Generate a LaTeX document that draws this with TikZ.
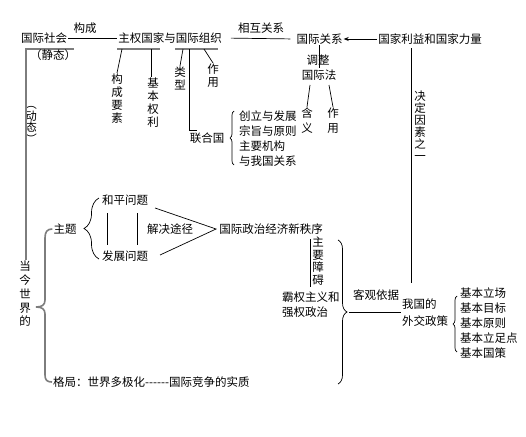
\documentclass[tikz,border=0pt]{standalone}
\usepackage{fontspec}
\setmainfont{Noto Sans CJK SC}
\usetikzlibrary{decorations.pathreplacing,arrows.meta}
\definecolor{lgray}{RGB}{125,125,125}
\begin{document}
\begin{tikzpicture}[x=1pt,y=-1pt,
  every node/.style={font=\fontsize{11.5}{13.8}\selectfont, inner sep=1pt},
  vt/.style={align=center, anchor=north, font=\fontsize{11.5}{#1}\selectfont},
  vt/.default=13,
  ml/.style={align=left, anchor=west, font=\fontsize{11.5}{#1}\selectfont},
  ml/.default=15,
  bar/.style={lgray, line width=2.5pt},
  gline/.style={lgray, line width=1.6pt},
  ln/.style={black, line width=0.7pt},
  brc/.style={ln, decorate, decoration={brace, amplitude=#1}}]
\fill[white] (0,0) rectangle (526,436);
\useasboundingbox (0,0) rectangle (526,436);

% top row
\node (gjsh) at (44,38) {国际社会};
\node (gc) at (85,28) {构成};
\node (zq) at (170,38) {主权国家与国际组织};
\node (xh) at (261,28) {相互关系};
\node (gjgx) at (319.5,39) {国际关系};
\node (gjly) at (430,39) {国家利益和国家力量};
\draw[ln] (gjsh.east) -- (zq.west);
\draw[ln, shorten <=8pt, shorten >=5pt] (zq.east) -- (gjgx.west);
\draw[ln, -{Stealth[length=5pt,width=4pt]}] (gjly.west) -- (gjgx.east);

% left static / dynamic
\coordinate (s1) at (25,49); \coordinate (s2) at (74,49);
\draw[bar] (s1) -- (s2);
\node (jt) at (53,55) {（静态）};
\node[vt=11.5, anchor=center] (dt) at (31,125) {︵\\动\\态\\︶};
\node[vt=13.75] (dj) at (25,260) {当\\今\\世\\界\\的};
\coordinate (g1) at (26,49);
\draw[gline] (g1) -- (g1 |- dj.north);

% sovereign states & organisations
\coordinate (b1) at (117,49); \coordinate (b2) at (160,49);
\coordinate (b3) at (175,49); \coordinate (b4) at (218,49);
\draw[bar] (b1) -- (b2);
\draw[bar] (b3) -- (b4);
\node[vt] (gcys) at (117,73) {构\\成\\要\\素};
\coordinate (l1) at (122,49);
\draw[ln] (l1) -- (gcys.north);
\node[vt] (jbql) at (153,77) {基\\本\\权\\利};
\coordinate (l2) at (151,49);
\draw[ln] (l2) -- (l2 |- jbql.north);
\node[vt] (lx) at (180,66) {类\\型};
\coordinate (l3) at (183,49);
\draw[ln] (l3) -- (lx.north);
\node[vt] (zy1) at (213,63) {作\\用};
\coordinate (l4) at (204,49);
\draw[ln] (l4) -- (zy1.north);
\coordinate (l5) at (189,49); \coordinate (l6) at (197,130);
\draw[ln] (l5) |- (l6);
\node (lhg) at (207,138) {联合国};
\draw[brc=4pt] (234,165) -- (234,111);
\node[ml] (lhgl) at (238,138.5) {创立与发展\\宗旨与原则\\主要机构\\与我国关系};

% international relations / law
\node (tz) at (318,60) {调整};
\node (gjf) at (319,75) {国际法};
\coordinate (t1) at (319,68);
\draw[ln] (gjgx.south) -- (gjgx.south |- t1);
\node[vt=15] (hy) at (307,107) {含\\义};
\coordinate (h1) at (310,85);
\draw[ln] (h1) -- (hy.north);
\node[vt=15] (zy2) at (333,107) {作\\用};
\coordinate (h2) at (329,85);
\draw[ln] (h2) -- (zy2.north);

% decisive factor
\coordinate (v1) at (411,48); \coordinate (v2) at (411,283);
\draw[ln] (v1) -- (v2);
\node[vt=12] (jd) at (420,90) {决\\定\\因\\素\\之\\一};

% themes
\node (hp) at (125,200) {和平问题};
\node (fz) at (125,256) {发展问题};
\draw[brc=15pt] (99,259) -- (99,198);
\node (zt) at (65,229) {主题};
\coordinate (m1) at (107,213); \coordinate (m2) at (107,245);
\coordinate (m3) at (137,213); \coordinate (m4) at (137,245);
\draw[ln] (m1) -- (m2);
\draw[ln] (m3) -- (m4);
\node (jj) at (170,229) {解决途径};
\node (xzx) at (271,229) {国际政治经济新秩序};
\coordinate (a1) at (155,208); \coordinate (a2) at (160,255);
\draw[ln] (a1) -- ([xshift=-2pt]xzx.west) -- (a2);

% big brace
\node[anchor=west] (gj) at (52,382) {格局：世界多极化-{}-{}-{}-{}-{}-国际竞争的实质};
\draw[gline] (zt.west) .. controls (47,229) and (45,232) .. (45,238) -- (45,300)
  .. controls (45,305) and (42,307) .. (36,307)
  .. controls (42,307) and (45,309) .. (45,314) -- (45,375)
  .. controls (45,380) and (47,382) .. (gj.west);

% obstacles
\coordinate (z1) at (310,239); \coordinate (z2) at (310,287);
\draw[ln] (z1) -- (z2);
\node[vt=12.5] (zyza) at (318,236) {主\\要\\障\\碍};
\node[ml] (bq) at (281,305) {霸权主义和\\强权政治};
\draw[brc=9pt] (338,240) -- (338,384);
\coordinate (bt) at (349,312);
\node (kg) at (376,295) {客观依据};
\node[ml=17] (wg) at (401,313) {我国的\\外交政策};
\draw[ln] (bt) -- (bt -| wg.west);
\draw[brc=4pt] (457,352) -- (457,296);
\node[ml] (jb) at (459,323) {基本立场\\基本目标\\基本原则\\基本立足点\\基本国策};
\end{tikzpicture}
\end{document}
